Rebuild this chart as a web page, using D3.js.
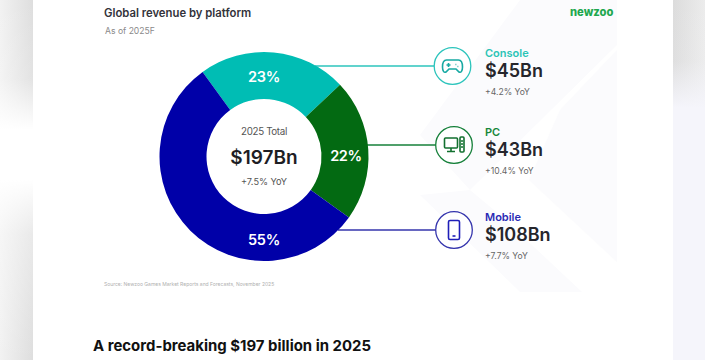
<!DOCTYPE html>
<html>
<head>
    <title>Global revenue by platform</title>
    <script src="https://d3js.org/d3.v7.min.js"></script>
    <style>
        html, body { margin: 0; padding: 0; background: #fff; overflow: hidden; }
        svg { display: block; font-family: Inter, sans-serif; }
    </style>
</head>
<body>
    <svg id="chart" width="705" height="360"></svg>

    <script>
    const platforms = ["Console", "PC", "Mobile"];
    const revenue = [45, 43, 108];
    const revenueLabels = ["$45Bn", "$43Bn", "$108Bn"];
    const shareLabels = ["23%", "22%", "55%"];
    const yoyLabels = ["+4.2% YoY", "+10.4% YoY", "+7.7% YoY"];
    const sliceColors = ["#00bdb4", "#036a12", "#0000a8"];
    const lineColors = ["#2cc4bc", "#16803a", "#3535ad"];
    const nameColors = ["#2cc4b6", "#17873a", "#2a2ab5"];

    const svg = d3.select("#chart");
    const defs = svg.append("defs");

    function gradient(id, vertical, stops) {
        const g = defs.append("linearGradient").attr("id", id)
            .attr("x2", vertical ? 0 : 1).attr("y2", vertical ? 1 : 0);
        stops.forEach(s => g.append("stop").attr("offset", s[0]).attr("stop-color", s[1]).attr("stop-opacity", s[2]));
    }
    gradient("leftBase", false, [[0, "#f2f2f2", 1], [1, "#dedede", 1]]);
    gradient("leftFade", true, [[0, "#fff", 0], [0.22, "#fff", 0.15], [0.36, "#fff", 1], [0.5, "#fff", 1], [0.65, "#fff", 0.35], [1, "#fff", 0]]);
    gradient("rightBase", false, [[0, "#dcdcdc", 1], [1, "#ececec", 1]]);
    gradient("rightFade", true, [[0, "#f5f5fb", 0], [0.17, "#f5f5fb", 0.1], [0.3, "#f5f5fb", 1], [1, "#f5f5fb", 1]]);

    // page background either side of the slide
    svg.append("rect").attr("x", 0).attr("y", 0).attr("width", 33).attr("height", 360).attr("fill", "url(#leftBase)");
    svg.append("rect").attr("x", 0).attr("y", 0).attr("width", 33).attr("height", 360).attr("fill", "url(#leftFade)");
    svg.append("rect").attr("x", 673).attr("y", 0).attr("width", 32).attr("height", 360).attr("fill", "url(#rightBase)");
    svg.append("rect").attr("x", 673).attr("y", 0).attr("width", 32).attr("height", 360).attr("fill", "url(#rightFade)");

    // faint diagonal bands behind the legend
    const bands = svg.append("g").attr("fill", "#fbfbfd");
    bands.append("path").attr("d", "M520 0H617V45L470 190L420 135Z");
    bands.append("path").attr("d", "M617 50V262L529 180L560 110Z");
    bands.append("path").attr("d", "M420 195L520 292H582L500 215L470 190Z");

    // donut
    const cx = 264, cy = 156.5, outerR = 104.5, innerR = 57.5;
    const startAngle = -36 * Math.PI / 180;
    const pie = d3.pie().sort(null).startAngle(startAngle).endAngle(startAngle + 2 * Math.PI);
    const arc = d3.arc().innerRadius(innerR).outerRadius(outerR);
    const arcs = pie(revenue);

    const legendX = [452.5, 454, 454];
    const legendY = [66, 145, 230];
    const lineStart = [315, 366, 338];

    // connector lines go under the donut
    svg.append("g").selectAll("line").data(platforms).enter().append("line")
        .attr("x1", (d, i) => lineStart[i])
        .attr("x2", 436)
        .attr("y1", (d, i) => legendY[i])
        .attr("y2", (d, i) => legendY[i])
        .attr("stroke", (d, i) => lineColors[i])
        .attr("stroke-width", 1.5);

    const donut = svg.append("g").attr("transform", `translate(${cx},${cy})`);
    donut.selectAll("path").data(arcs).enter().append("path")
        .attr("d", arc)
        .attr("fill", (d, i) => sliceColors[i]);

    const labelPos = [[0, -80], [82, -1], [0, 83]];
    donut.selectAll("text").data(arcs).enter().append("text")
        .attr("x", (d, i) => labelPos[i][0])
        .attr("y", (d, i) => labelPos[i][1])
        .attr("dy", "0.35em")
        .attr("text-anchor", "middle")
        .attr("fill", "#fff")
        .attr("font-size", 14.5)
        .attr("letter-spacing", -0.3)
        .attr("font-weight", 600)
        .text((d, i) => shareLabels[i]);

    // centre text
    svg.append("text").attr("x", cx).attr("y", 135).attr("text-anchor", "middle")
        .attr("font-size", 9.8).attr("letter-spacing", -0.35).attr("fill", "#555").text("2025 Total");
    svg.append("text").attr("x", cx).attr("y", 164).attr("text-anchor", "middle")
        .attr("font-size", 19).attr("font-weight", 600).attr("fill", "#1e1e24").text("$197Bn");
    svg.append("text").attr("x", cx).attr("y", 185).attr("text-anchor", "middle")
        .attr("font-size", 9.2).attr("fill", "#555").text("+7.5% YoY");

    // legend rows
    const rows = svg.append("g").selectAll("g").data(platforms).enter().append("g")
        .attr("transform", (d, i) => `translate(${legendX[i]},${legendY[i]})`);
    rows.append("circle").attr("r", 18.3).attr("fill", "#fff")
        .attr("stroke", (d, i) => lineColors[i]).attr("stroke-width", 1.3);
    rows.append("text").attr("x", (d, i) => 485 - legendX[i]).attr("y", -9.5)
        .attr("font-size", 11).attr("font-weight", 600)
        .attr("fill", (d, i) => nameColors[i]).text(d => d);
    rows.append("text").attr("x", (d, i) => 485 - legendX[i]).attr("y", 11)
        .attr("font-size", 18).attr("font-weight", 600).attr("fill", "#26262c")
        .text((d, i) => revenueLabels[i]);
    rows.append("text").attr("x", (d, i) => 485 - legendX[i]).attr("y", 28.5)
        .attr("font-size", 8.6).attr("fill", "#666")
        .text((d, i) => yoyLabels[i]);

    // icons
    const icons = rows.append("g").attr("fill", "none").attr("stroke-width", 1.6)
        .attr("stroke", (d, i) => nameColors[i]);
    icons.filter(d => d === "Console").each(function() {
        const g = d3.select(this).attr("stroke", "#17a9a3");
        g.append("path").attr("d", "M-6 -6H6C8.5 -6 10 -3 10 1C10 5 8.5 7 6.5 6L3.5 3H-3.5L-6.5 6C-8.5 7 -10 5 -10 1C-10 -3 -8.5 -6 -6 -6Z");
        g.append("path").attr("d", "M-6 -1H-2M-4 -3V1M3 -1.5H3.8M5 0.5H5.8");
    });
    icons.filter(d => d === "PC").each(function() {
        const g = d3.select(this).attr("stroke", "#12702f");
        g.append("rect").attr("x", -9.5).attr("y", -7).attr("width", 13).attr("height", 10).attr("rx", 1);
        g.append("path").attr("d", "M-3 3V6M-7 6.5H1");
        g.append("rect").attr("x", 6).attr("y", -8).attr("width", 4).attr("height", 15).attr("rx", 1);
        g.append("path").attr("d", "M7 -4H9M7 -1H9M7 2H9");
    });
    icons.filter(d => d === "Mobile").each(function() {
        const g = d3.select(this).attr("stroke", "#1f1fb8");
        g.append("rect").attr("x", -5.5).attr("y", -9.5).attr("width", 11).attr("height", 19).attr("rx", 1.5);
        g.append("path").attr("d", "M-1.5 6H1.5");
    });

    // headings
    svg.append("text").attr("x", 104).attr("y", 16.5)
        .attr("font-size", 11.3).attr("font-weight", 600).attr("fill", "#33333a")
        .text("Global revenue by platform");
    svg.append("text").attr("x", 105).attr("y", 34)
        .attr("font-size", 8.6).attr("fill", "#8a8a8a").text("As of 2025F");
    svg.append("text").attr("x", 570).attr("y", 16)
        .attr("font-size", 11.2).attr("font-weight", 800).attr("fill", "#1fa84f")
        .text("newzoo");
    svg.append("text").attr("x", 104).attr("y", 285.5)
        .attr("font-size", 5).attr("fill", "#b0b0b0")
        .text("Source: Newzoo Games Market Reports and Forecasts, November 2025");
    svg.append("text").attr("x", 93).attr("y", 351)
        .attr("font-size", 14.95).attr("font-weight", 700).attr("fill", "#111")
        .text("A record-breaking $197 billion in 2025");
    </script>
</body>
</html>
